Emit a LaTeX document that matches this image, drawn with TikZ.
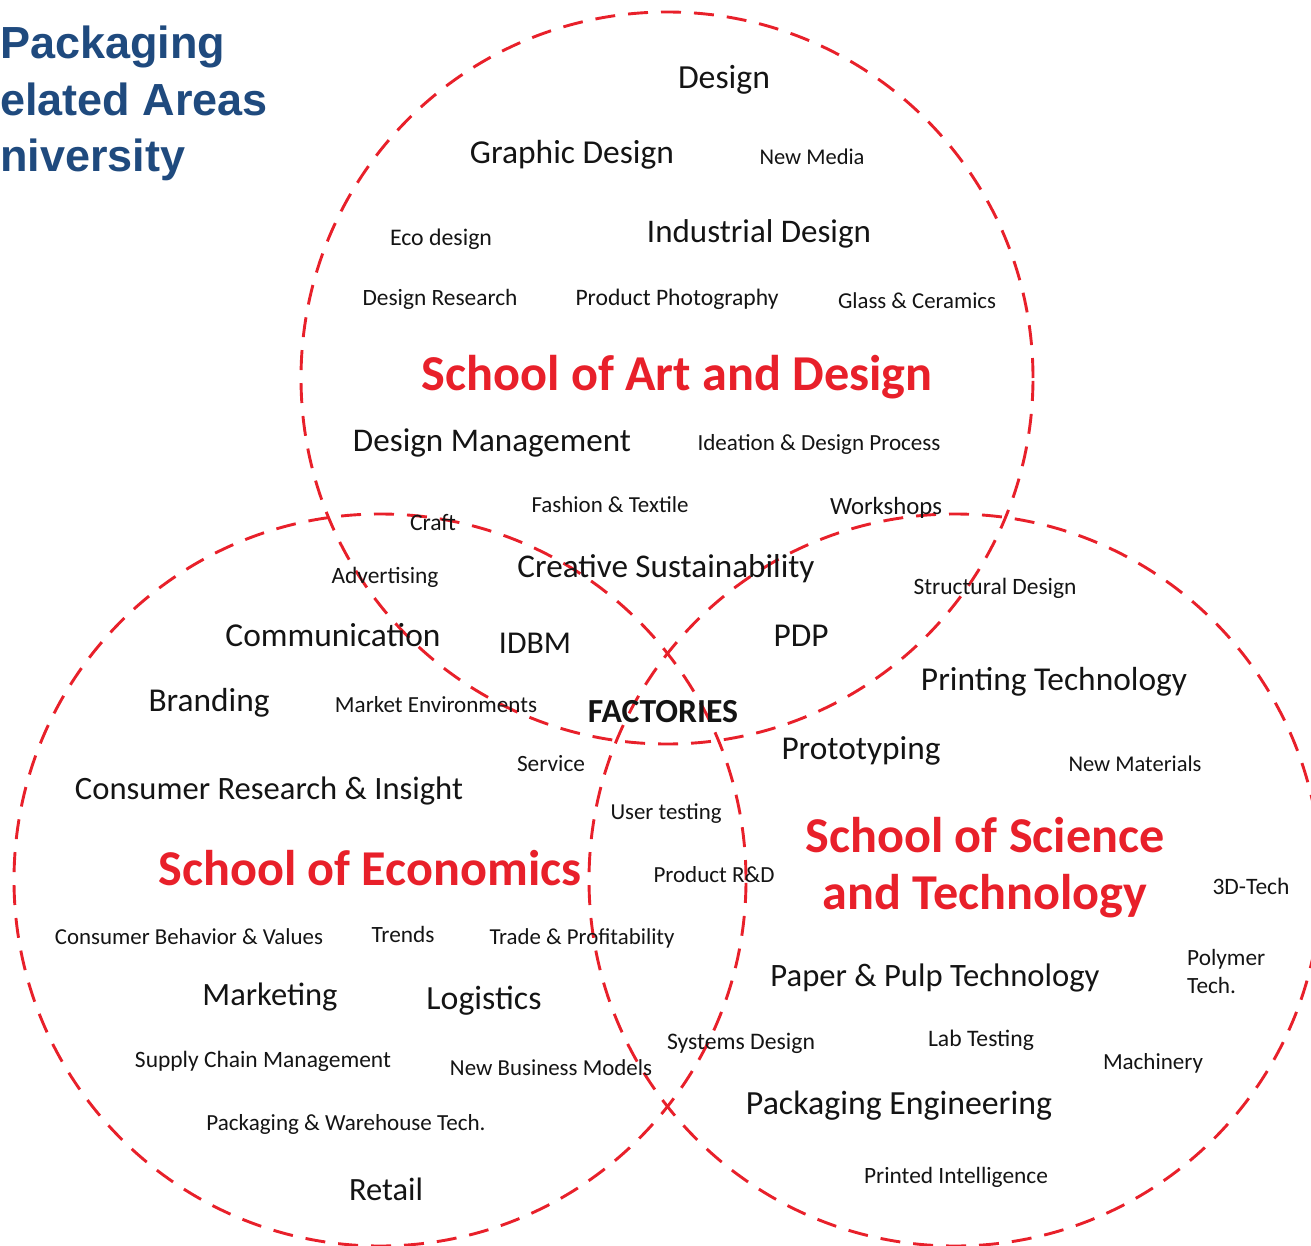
\documentclass[tikz,border=0pt]{standalone}
\usepackage{fontspec}
\setmainfont{Carlito}
\newfontfamily\titlefont{Liberation Sans}
\definecolor{vred}{RGB}{232,32,42}
\definecolor{tblue}{RGB}{31,74,126}
\newcommand\fw[2]{\resizebox{#1pt}{!}{#2}}
\begin{document}
\begin{tikzpicture}[x=1pt,y=-1pt,
  ring/.style={draw=vred, line width=2.9pt, dash pattern=on 20pt off 13pt},
  lbl/.style={inner sep=0pt, text=black!92, yshift=-3pt},
  school/.style={inner sep=0pt, text=vred, font=\bfseries, yshift=-3pt},
  ttl/.style={inner sep=0pt, text=tblue, font=\titlefont\bfseries\fontsize{45pt}{56.5pt}\selectfont, align=left}]
\useasboundingbox (0,0) rectangle (1311,1246);
% circles
\draw[ring] (667,378) circle[radius=366pt];
\draw[ring] (380,880) circle[radius=366pt];
\draw[ring] (955,880) circle[radius=366pt];
% title
\node[ttl, anchor=north west] (title) at (0,26) {Packaging\\elated Areas\\niversity};
% top circle
\node[lbl] (design) at (724,77) {\fw{92}{Design}};
\node[lbl] (graphic) at (572,152) {\fw{204}{Graphic Design}};
\node[lbl] (newmedia) at (812,154) {\fw{105}{New Media}};
\node[lbl] (eco) at (441,236) {\fw{102}{Eco design}};
\node[lbl] (industrial) at (759,231) {\fw{224}{Industrial Design}};
\node[lbl] (research) at (440,296) {\fw{155}{Design Research}};
\node[lbl] (photo) at (677,296) {\fw{203}{Product Photography}};
\node[lbl] (glass) at (917,298) {\fw{158}{Glass \& Ceramics}};
\node[school] (sad) at (677,374) {\fw{511}{School of Art and Design}};
\node[lbl] (mgmt) at (492,440) {\fw{278}{Design Management}};
\node[lbl] (ideation) at (819,441) {\fw{243}{Ideation \& Design Process}};
\node[lbl] (craft) at (433,519) {\fw{46}{Craft}};
\node[lbl] (fashion) at (610,502) {\fw{157}{Fashion \& Textile}};
\node[lbl] (workshops) at (886,505) {\fw{112}{Workshops}};
\node[lbl] (advert) at (385,574) {\fw{107}{Advertising}};
\node[lbl] (creative) at (666,566) {\fw{297}{Creative Sustainability}};
\node[lbl] (structural) at (995,585) {\fw{163}{Structural Design}};
\node[lbl] (comm) at (333,632) {\fw{215}{Communication}};
\node[lbl] (idbm) at (535,640) {\fw{72}{IDBM}};
\node[lbl] (pdp) at (801,633) {\fw{55}{PDP}};
\node[lbl] (printing) at (1054,679) {\fw{266}{Printing Technology}};
\node[lbl] (branding) at (209,700) {\fw{121}{Branding}};
\node[lbl] (market) at (436,702) {\fw{202}{Market Environments}};
\node[lbl, font=\bfseries] (factories) at (663,709) {\fw{150}{FACTORIES}};
\node[lbl] (proto) at (861,748) {\fw{159}{Prototyping}};
\node[lbl] (newmat) at (1135,761) {\fw{133}{New Materials}};
\node[lbl] (service) at (551,761) {\fw{68}{Service}};
\node[lbl] (consres) at (269,788) {\fw{388}{Consumer Research \& Insight}};
\node[lbl] (usertest) at (666,811) {\fw{111}{User testing}};
\node[school] (sst) at (985,866) {\fw{359}{\begin{tabular}{@{}c@{}}School of Science\\[-0.05em]and Technology\end{tabular}}};
\node[school] (se) at (370,865) {\fw{423}{School of Economics}};
\node[lbl] (prodrd) at (714,872) {\fw{121}{Product R\&D}};
\node[lbl] (tech3d) at (1251,883) {\fw{77}{3D-Tech}};
\node[lbl] (consbeh) at (189,934) {\fw{268}{Consumer Behavior \& Values}};
\node[lbl] (trends) at (403,931) {\fw{63}{Trends}};
\node[lbl] (trade) at (582,935) {\fw{185}{Trade \& Profitability}};
\node[lbl] (paper) at (935,975) {\fw{329}{Paper \& Pulp Technology}};
\node[lbl, anchor=west] (polymer) at (1187,971) {\fw{78}{\begin{tabular}{@{}l@{}}Polymer\\Tech.\end{tabular}}};
\node[lbl] (marketing) at (270,994) {\fw{135}{Marketing}};
\node[lbl] (logistics) at (484,998) {\fw{115}{Logistics}};
\node[lbl] (systems) at (741,1040) {\fw{148}{Systems Design}};
\node[lbl] (lab) at (981,1037) {\fw{106}{Lab Testing}};
\node[lbl] (machinery) at (1153,1060) {\fw{100}{Machinery}};
\node[lbl] (supply) at (263,1058) {\fw{256}{Supply Chain Management}};
\node[lbl] (newbiz) at (551,1065) {\fw{202}{New Business Models}};
\node[lbl] (pkgeng) at (899,1103) {\fw{306}{Packaging Engineering}};
\node[lbl] (pkgware) at (346,1121) {\fw{279}{Packaging \& Warehouse Tech.}};
\node[lbl] (printed) at (956,1174) {\fw{184}{Printed Intelligence}};
\node[lbl] (retail) at (386,1186) {\fw{74}{Retail}};
\end{tikzpicture}
\end{document}
